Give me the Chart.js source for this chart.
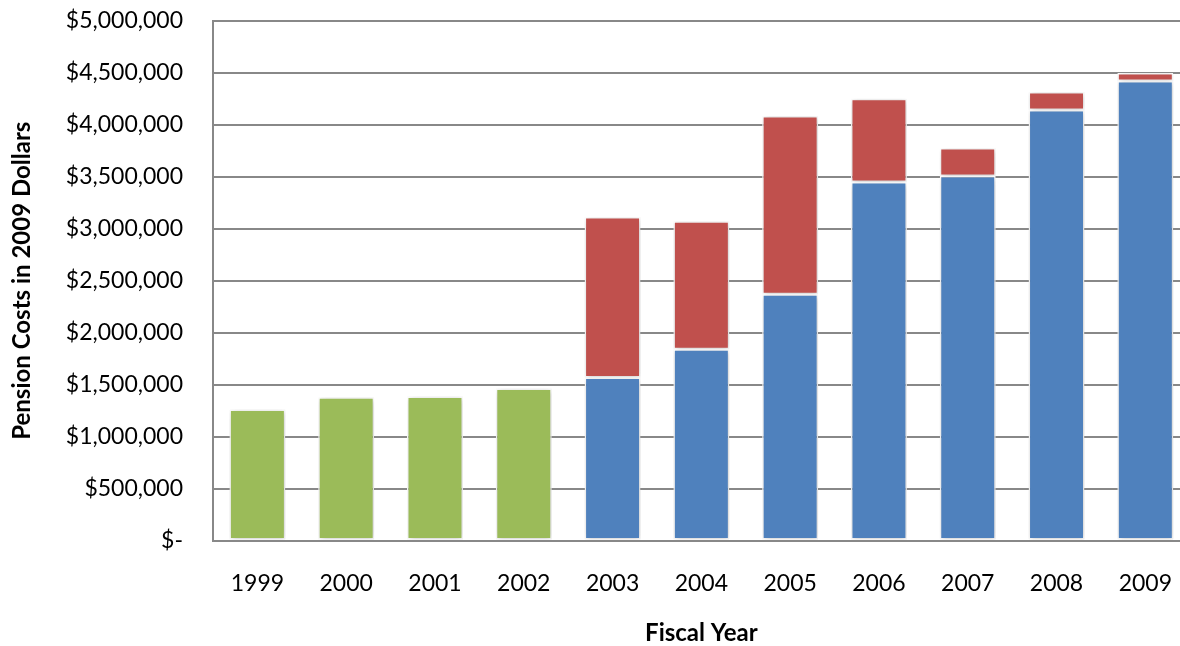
<!DOCTYPE html>
<html>
<head>
<meta charset="utf-8">
<script src="https://cdn.jsdelivr.net/npm/chart.js@4.4.1/dist/chart.umd.min.js"></script>
<style>
  html, body { margin: 0; padding: 0; background: #fff; overflow: hidden; }
  #wrap { width: 1180px; height: 646px; overflow: hidden; position: relative; }
  #pension { position: absolute; left: 0; top: -23px; }
</style>
</head>
<body>
<div id="wrap"><canvas id="pension" width="1201" height="671"></canvas></div>
<script>
var years = ['1999','2000','2001','2002','2003','2004','2005','2006','2007','2008','2009'];
var earlyCosts = [1262000, 1378000, 1387000, 1464000, null, null, null, null, null, null, null];
var baseCosts  = [null, null, null, null, 1570000, 1840000, 2370000, 3449000, 3507000, 4143000, 4422000];
var extraCosts = [null, null, null, null, 1542000, 1233000, 1715000, 800000, 269000, 173000, 77000];
var yTicks = [0, 500000, 1000000, 1500000, 2000000, 2500000, 3000000, 3500000, 4000000, 4500000, 5000000];

var colors = ['#9BBB59', '#4F81BD', '#C0504D'];
var font = "Lato, 'Open Sans', sans-serif";

// soft drop shadow behind the bars
var barShadow = {
    id: 'barShadow',
    beforeDatasetsDraw: function(chart){
        var ctx = chart.ctx;
        ctx.save();
        ctx.shadowColor = 'rgba(0,0,0,0.22)';
        ctx.shadowBlur = 6;
        ctx.shadowOffsetX = 1;
        ctx.shadowOffsetY = 1;
    },
    afterDatasetsDraw: function(chart){
        chart.ctx.restore();
    }
};

function money(v){
    if (v === 0) return '$-';
    return '$' + v.toLocaleString('en-US');
}

var barOpts = { borderColor: '#ffffff', borderWidth: 1.5, borderSkipped: false, barPercentage: 0.63, categoryPercentage: 1 };

new Chart(document.getElementById('pension'), {
    type: 'bar',
    data: {
        labels: years,
        datasets: [
            Object.assign({ label: 'early', data: earlyCosts, backgroundColor: colors[0] }, barOpts),
            Object.assign({ label: 'base', data: baseCosts, backgroundColor: colors[1] }, barOpts),
            Object.assign({ label: 'extra', data: extraCosts, backgroundColor: colors[2] }, barOpts)
        ]
    },
    options: {
        responsive: false,
        animation: false,
        layout: { padding: 0 },
        plugins: { legend: { display: false }, tooltip: { enabled: false } },
        scales: {
            x: {
                stacked: true,
                grid: { drawOnChartArea: false, drawTicks: false },
                border: { color: '#888888', width: 2 },
                ticks: { color: '#000', font: { family: font, size: 23 }, padding: 29 },
                title: { display: true, text: 'Fiscal Year', color: '#000', font: { family: font, size: 24, weight: 'bold' }, padding: { top: -7, bottom: 0 } }
            },
            y: {
                stacked: true,
                min: 0,
                max: 5000000,
                afterBuildTicks: function(scale){ scale.ticks = yTicks.map(function(v){ return { value: v }; }); },
                afterFit: function(scale){ scale.width = 213; },
                grid: { color: '#888888', lineWidth: 2, drawTicks: false },
                border: { color: '#888888', width: 2 },
                ticks: { color: '#000', font: { family: font, size: 23 }, padding: 30, callback: money },
                title: { display: true, text: 'Pension Costs in 2009 Dollars', color: '#000', font: { family: font, size: 24, weight: 'bold' }, padding: { top: 8, bottom: 0 } }
            }
        }
    },
    plugins: [barShadow]
});
</script>
</body>
</html>
